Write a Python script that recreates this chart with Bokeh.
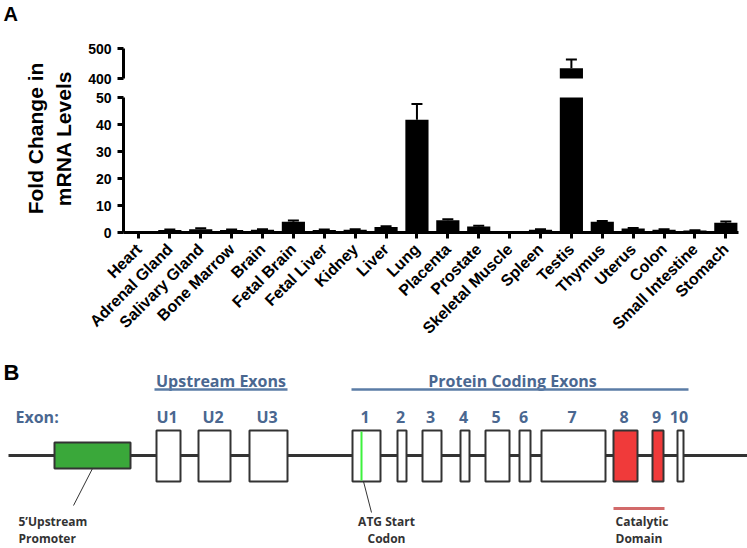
import numpy as np
from bokeh.plotting import figure
from bokeh.models import ColumnDataSource, Range1d, FixedTicker, Whisker, TeeHead
from bokeh.layouts import column, row
from bokeh.embed import file_html
from bokeh.resources import INLINE
from bokeh.core.properties import value

# ---------------- Panel A data ----------------
tissues = ["Heart", "Adrenal Gland", "Salivary Gland", "Bone Marrow", "Brain",
           "Fetal Brain", "Fetal Liver", "Kidney", "Liver", "Lung", "Placenta",
           "Prostate", "Skeletal Muscle", "Spleen", "Testis", "Thymus", "Uterus",
           "Colon", "Small Intestine", "Stomach"]
fold_change = [0.05, 0.9, 1.25, 0.9, 1.0, 4.0, 0.9, 1.05, 2.0, 41.8, 4.5,
               2.2, 0.05, 1.0, 434.0, 4.0, 1.5, 1.05, 0.75, 3.6]
fold_error = [0.05, 0.2, 0.3, 0.2, 0.2, 0.4, 0.2, 0.2, 0.3, 5.8, 0.4,
              0.3, 0.05, 0.2, 29.0, 0.3, 0.2, 0.2, 0.1, 0.5]
break_low = 50
break_high = 400
lower_ticks = [0, 10, 20, 30, 40, 50]
upper_ticks = [400, 500]
y_label_lines = ["Fold Change in", "mRNA Levels"]

# ---------------- Panel B data ----------------
exon_names = ["U1", "U2", "U3", "1", "2", "3", "4", "5", "6", "7", "8", "9", "10"]
exon_start = [156, 198, 249, 352, 397, 422, 460, 485, 519, 541, 613, 652, 677]
exon_end = [180, 230, 287, 380, 406, 441, 469, 509, 530, 605, 637, 663, 683]
exon_catalytic = [False] * 10 + [True, True, False]
promoter_span = (54, 130)
atg_pos = 361
gene_span = (8, 747)
upstream_span = (154, 287)
coding_span = (351, 688)
catalytic_span = (613, 664)

BOLD_SANS = value("Liberation Sans")
CAL = value("Open Sans")
BLUE_TXT = "#4a6790"
BLUE_LINE = "#5b7ca6"
DARK = "#333333"

x = np.arange(len(tissues))
vals = np.array(fold_change)
errs = np.array(fold_error)

shared_x = Range1d(-0.5, 19.41)


def style_y(p, ticks, bounds):
    ax = p.yaxis[0]
    ax.ticker = FixedTicker(ticks=ticks)
    ax.bounds = bounds
    ax.axis_line_width = 3
    ax.axis_line_color = "black"
    ax.major_tick_line_width = 3
    ax.major_tick_in = 0
    ax.major_tick_out = 6
    ax.minor_tick_line_color = None
    ax.major_label_text_font = "Liberation Sans"
    ax.major_label_text_font_style = "bold"
    ax.major_label_text_font_size = "14px"
    ax.major_label_text_color = "black"
    ax.major_label_standoff = 6


# ---- upper (broken) part ----
figTop = figure(width=669, height=88, x_range=shared_x, y_range=Range1d(380, 526.67),
                x_axis_location=None, toolbar_location=None, output_backend="svg",
                min_border_left=45, min_border_right=9, min_border_top=40, min_border_bottom=4)
figTop.grid.visible = False
figTop.outline_line_color = None
style_y(figTop, upper_ticks, (break_high, 500))
hi = vals > break_high
src_hi = ColumnDataSource(dict(x=x[hi], bottom=np.full(hi.sum(), break_high), top=vals[hi],
                               upper=vals[hi] + errs[hi]))
figTop.vbar(x="x", bottom="bottom", top="top", width=0.75, source=src_hi,
            fill_color="black", line_color=None)
figTop.add_layout(Whisker(base="x", lower="top", upper="upper", source=src_hi,
                          line_width=2, upper_head=TeeHead(size=11, line_width=2),
                          lower_head=None))

# ---- lower part ----
figBot = figure(width=669, height=258, x_range=shared_x, y_range=Range1d(0, 52.6),
                toolbar_location=None, output_backend="svg",
                min_border_left=45, min_border_right=9, min_border_top=2, min_border_bottom=114)
figBot.grid.visible = False
figBot.outline_line_color = None
style_y(figBot, lower_ticks, (0, break_low))
xa = figBot.xaxis[0]
xa.ticker = FixedTicker(ticks=list(range(len(tissues))))
xa.major_label_overrides = {i: t for i, t in enumerate(tissues)}
xa.major_label_orientation = np.pi / 4
xa.axis_line_width = 3
xa.major_tick_line_width = 3
xa.major_tick_in = 0
xa.major_tick_out = 6
xa.minor_tick_line_color = None
xa.major_label_text_font = "Liberation Sans"
xa.major_label_text_font_style = "bold"
xa.major_label_text_font_size = "16px"
xa.major_label_text_color = "black"
xa.major_label_standoff = 8
src_lo = ColumnDataSource(dict(x=x, top=np.minimum(vals, break_low)))
figBot.vbar(x="x", top="top", bottom=0, width=0.75, source=src_lo,
            fill_color="black", line_color=None)
lo = vals < break_low
src_err = ColumnDataSource(dict(x=x[lo], top=vals[lo], upper=vals[lo] + errs[lo]))
figBot.add_layout(Whisker(base="x", lower="top", upper="upper", source=src_err,
                          line_width=2, upper_head=TeeHead(size=11, line_width=2),
                          lower_head=None))

# ---- label strip for panel A ----
figLab = figure(width=78, height=346, x_range=Range1d(0, 78), y_range=Range1d(346, 0),
                x_axis_location=None, y_axis_location=None, toolbar_location=None,
                output_backend="svg", min_border=0)
figLab.grid.visible = False
figLab.outline_line_color = None
figLab.text(x=[3], y=[13.5], text=["A"], text_font=BOLD_SANS, text_font_style="bold",
            text_font_size="20px", text_baseline="alphabetic", text_align="left",
            text_color="black")
figLab.text(x=[34.5, 62.5], y=[138, 138], text=y_label_lines, angle=np.pi / 2,
            text_font=BOLD_SANS, text_font_style="bold", text_font_size="21px",
            text_align="center", text_baseline="alphabetic", text_color="black")

# ---------------- Panel B ----------------
figB = figure(width=747, height=202, x_range=Range1d(0, 747), y_range=Range1d(548, 346),
              x_axis_location=None, y_axis_location=None, toolbar_location=None,
              output_backend="svg", min_border=0)
figB.grid.visible = False
figB.outline_line_color = None

figB.text(x=[3], y=[371.5], text=["B"], text_font=BOLD_SANS, text_font_style="bold",
          text_font_size="22px", text_baseline="alphabetic", text_align="left",
          text_color="black")

# group headers
figB.text(x=[sum(upstream_span) / 2, 512], y=[380, 380],
          text=["Upstream Exons", "Protein Coding Exons"], text_font=CAL,
          text_font_style="bold", text_font_size="16px", text_align="center",
          text_baseline="alphabetic", text_color=BLUE_TXT)
figB.segment(x0=[upstream_span[0], coding_span[0]], y0=[389, 389],
             x1=[upstream_span[1], coding_span[1]], y1=[389, 389],
             line_color=BLUE_LINE, line_width=2.5)

# exon labels
es = np.array(exon_start, dtype=float)
ee = np.array(exon_end, dtype=float)
centers = (es + ee) / 2
figB.text(x=[15], y=[416], text=["Exon:"], text_font=CAL, text_font_style="bold",
          text_font_size="16px", text_align="left", text_baseline="alphabetic",
          text_color=BLUE_TXT)
figB.text(x=centers - 1.5, y=np.full(len(exon_names), 416), text=exon_names, text_font=CAL,
          text_font_style="bold", text_font_size="16px", text_align="center",
          text_baseline="alphabetic", text_color=BLUE_TXT)

# genomic line
figB.segment(x0=[gene_span[0]], y0=[455], x1=[gene_span[1]], y1=[455],
             line_color=DARK, line_width=3)

# promoter
figB.quad(left=[promoter_span[0]], right=[promoter_span[1]], top=[442], bottom=[468],
          fill_color="#3aa83a", line_color=DARK, line_width=2)

# exons
fills = ["#f03a3a" if c else "white" for c in exon_catalytic]
figB.quad(left=es, right=ee, top=np.full(len(es), 430), bottom=np.full(len(es), 481),
          fill_color=fills, line_color=DARK, line_width=2)

# ATG marker
figB.segment(x0=[atg_pos], y0=[431], x1=[atg_pos], y1=[480], line_color="#3df23d", line_width=2)

# annotation leader lines
figB.segment(x0=[92, 363], y0=[468, 481], x1=[73, 371], y1=[505, 512],
             line_color=DARK, line_width=1)
figB.segment(x0=[catalytic_span[0]], y0=[508], x1=[catalytic_span[1]], y1=[508],
             line_color="#d26a6a", line_width=3)

figB.text(x=[18, 18], y=[521, 538], text=["5’Upstream", "Promoter"], text_font=CAL,
          text_font_style="bold", text_font_size="12px", text_align="left",
          text_baseline="alphabetic", text_color=DARK)
figB.text(x=[386, 386], y=[521, 538], text=["ATG Start", "Codon"], text_font=CAL,
          text_font_style="bold", text_font_size="12px", text_align="center",
          text_baseline="alphabetic", text_color=DARK)
figB.text(x=[615, 615], y=[521, 538], text=["Catalytic", "Domain"], text_font=CAL,
          text_font_style="bold", text_font_size="12px", text_align="left",
          text_baseline="alphabetic", text_color=DARK)

layout = column(row(figLab, column(figTop, figBot)), figB)

open("out.html", "w").write(file_html(layout, INLINE))
